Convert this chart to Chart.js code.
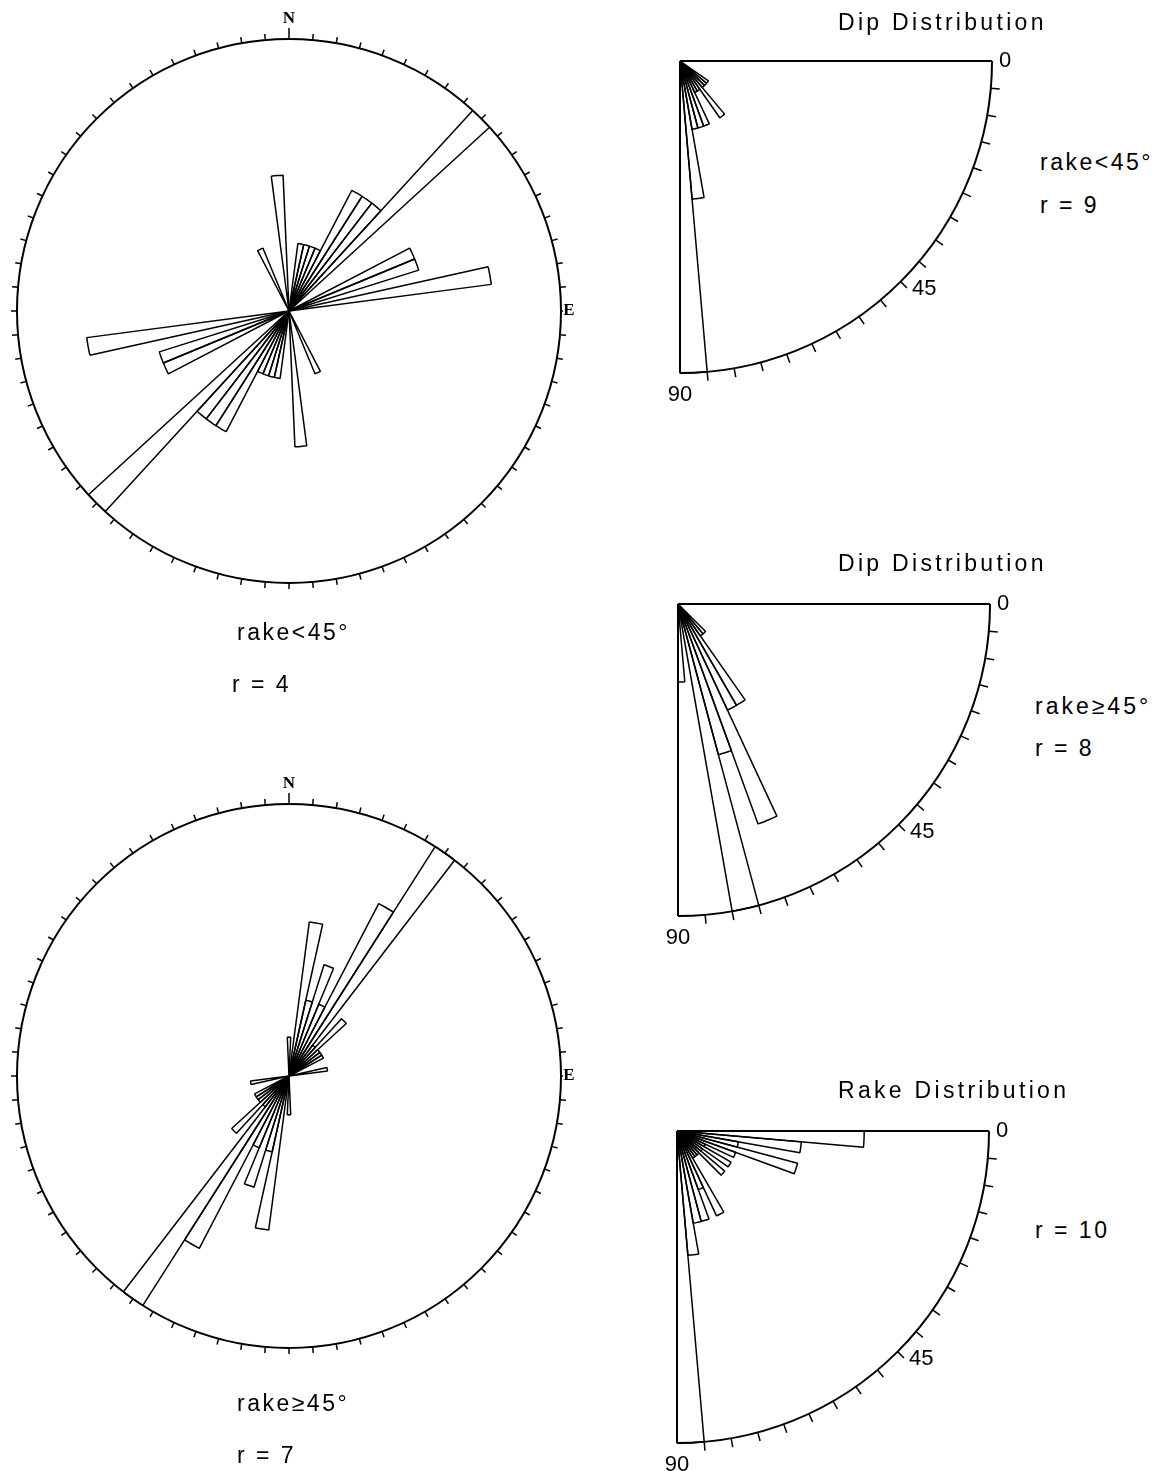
<!DOCTYPE html>
<html><head><meta charset="utf-8">
<title>Rose diagrams</title>
<script src="https://cdn.jsdelivr.net/npm/chart.js@4.4.1/dist/chart.umd.min.js"></script>
<style>
html,body{margin:0;padding:0;background:#fff;}
body{width:1174px;height:1471px;position:relative;overflow:hidden;font-family:"Liberation Sans",Arial,Helvetica,sans-serif;}
canvas{position:absolute;display:block;}
.t{position:absolute;margin:0;color:#000;font-size:23px;line-height:1;letter-spacing:2.5px;white-space:pre;}
.h{letter-spacing:3.3px;}
</style></head>
<body>
<canvas id="roseTop" width="600" height="600" style="left:-11px;top:11px;width:600px;height:600px"></canvas>
<canvas id="roseBottom" width="600" height="600" style="left:-11px;top:776px;width:600px;height:600px"></canvas>
<canvas id="dipUpper" width="684" height="684" style="left:338px;top:-281px;width:684px;height:684px"></canvas>
<canvas id="dipLower" width="684" height="684" style="left:336px;top:262px;width:684px;height:684px"></canvas>
<canvas id="rakeDist" width="684" height="684" style="left:335px;top:789px;width:684px;height:684px"></canvas>

<div class="t" style="left:237px;top:621px">rake&lt;45°</div>
<div class="t" style="left:232px;top:673px">r = 4</div>
<div class="t" style="left:237px;top:1392px">rake≥45°</div>
<div class="t" style="left:237px;top:1444px">r = 7</div>
<div class="t h" style="left:838px;top:11px">Dip Distribution</div>
<div class="t" style="left:1040px;top:151px">rake&lt;45°</div>
<div class="t" style="left:1040px;top:194px">r = 9</div>
<div class="t h" style="left:838px;top:552px">Dip Distribution</div>
<div class="t" style="left:1035px;top:695px;letter-spacing:3px">rake≥45°</div>
<div class="t" style="left:1035px;top:737px">r = 8</div>
<div class="t h" style="left:838px;top:1079px">Rake Distribution</div>
<div class="t" style="left:1035px;top:1219px">r = 10</div>

<script>
// ---------- DATA ----------
// Strike rose (bidirectional), 5-degree bins centred on 0,5,...,175 (mirrored to 180..355)
const strikeBinCenters = [0,5,10,15,20,25,30,35,40,45,50,55,60,65,70,75,80,85,
                          90,95,100,105,110,115,120,125,130,135,140,145,150,155,160,165,170,175];
const strikeCountsRakeLow  = [0,0,1,1,1,1,2,2,2,4,0,0,0,2,2,0,3,0,
                              0,0,0,0,0,0,0,0,0,0,0,0,0,1,0,0,0,2];
const strikeCountsRakeHigh = [1,0,4,2,3,2,5,7,1,2,1,1,1,0,0,0,1,0,
                              0,0,0,0,0,0,0,0,0,0,0,0,0,0,0,0,0,0];
const strikeMaxRakeLow = 4;   // r = 4
const strikeMaxRakeHigh = 7;  // r = 7

// Quarter roses, 5-degree bins 0-5 ... 85-90
const dipBins = ['0-5','5-10','10-15','15-20','20-25','25-30','30-35','35-40','40-45',
                 '45-50','50-55','55-60','60-65','65-70','70-75','75-80','80-85','85-90'];
const dipCountsRakeLow  = [0,0,0,0,0,0,0,1,1,1,2,1,1,2,2,2,4,9];
const dipCountsRakeHigh = [0,0,0,0,0,0,0,0,0,1,1,3,3,6,4,8,0,2];
const rakeCounts        = [6,4,2,4,2,1,2,1,2,1,1,1,3,2,3,3,4,10];
const dipMaxRakeLow = 9;   // r = 9
const dipMaxRakeHigh = 8;  // r = 8
const rakeMax = 10;        // r = 10

// Tick labels
const compassTickLabels = ['N','E'];
const compassTickAngles = [0, 90];
const quarterTickLabels = ['0','45','90'];
const quarterTickAngles = [0, 45, 90];
const tickStepDeg = 5;

// ---------- FRAME PLUGIN (uses the radial scale geometry) ----------
const rad = d => d * Math.PI / 180;
const roseFrame = {
  id: 'roseFrame',
  afterDatasetsDraw(chart, args, o) {
    const s = chart.scales.r, ctx = chart.ctx;
    const cx = s.xCenter, cy = s.yCenter, R = s.drawingArea;
    ctx.save();
    ctx.strokeStyle = '#000'; ctx.fillStyle = '#000'; ctx.lineCap = 'butt';
    if (o.kind === 'circle') {
      ctx.lineWidth = 2;
      ctx.beginPath(); ctx.arc(cx, cy, R, 0, Math.PI * 2); ctx.stroke();
      ctx.lineWidth = 1.5;
      for (let a = 0; a < 360; a += tickStepDeg) {
        const li = compassTickAngles.indexOf(a);
        const len = li === 0 ? 11 : (li > 0 ? 2 : 6);
        const t = rad(a - 90);
        ctx.beginPath();
        ctx.moveTo(cx + R * Math.cos(t), cy + R * Math.sin(t));
        ctx.lineTo(cx + (R + len) * Math.cos(t), cy + (R + len) * Math.sin(t));
        ctx.stroke();
      }
      ctx.font = 'bold 17px "Liberation Serif", "DejaVu Serif", serif';
      ctx.textAlign = 'center'; ctx.textBaseline = 'middle';
      compassTickLabels.forEach((lab, i) => {
        const a = compassTickAngles[i], t = rad(a - 90);
        const off = a === 0 ? 20 : 8;
        ctx.fillText(lab, cx + (R + off) * Math.cos(t), cy + (R + off) * Math.sin(t));
      });
    } else {
      ctx.lineWidth = 2;
      ctx.beginPath(); ctx.moveTo(cx, cy); ctx.lineTo(cx + R, cy); ctx.stroke();
      ctx.beginPath(); ctx.moveTo(cx, cy); ctx.lineTo(cx, cy + R); ctx.stroke();
      ctx.beginPath(); ctx.arc(cx, cy, R, 0, Math.PI / 2); ctx.stroke();
      ctx.lineWidth = 1.5;
      for (let a = tickStepDeg; a < 90; a += tickStepDeg) {
        const t = rad(a);
        ctx.beginPath();
        ctx.moveTo(cx + R * Math.cos(t), cy + R * Math.sin(t));
        ctx.lineTo(cx + (R + 9) * Math.cos(t), cy + (R + 9) * Math.sin(t));
        ctx.stroke();
      }
      ctx.font = '22px "Liberation Sans", Arial, sans-serif';
      ctx.textAlign = 'center'; ctx.textBaseline = 'middle';
      quarterTickLabels.forEach((lab, i) => {
        const a = quarterTickAngles[i];
        const ta = a === 45 ? 43 : a;
        const off = a === 0 ? 13 : 22;
        const t = rad(ta);
        ctx.fillText(lab, cx + (R + off) * Math.cos(t), cy + (R + off) * Math.sin(t));
      });
    }
    ctx.restore();
  }
};

function makeRose(id, labels, values, max, startAngle, kind, pad) {
  return new Chart(document.getElementById(id), {
    type: 'polarArea',
    data: {
      labels: labels,
      datasets: [{
        data: values,
        angle: tickStepDeg,
        backgroundColor: 'rgba(255,255,255,0)',
        borderColor: '#000',
        borderWidth: 1.5
      }]
    },
    options: {
      responsive: false,
      animation: false,
      events: [],
      layout: { padding: pad },
      plugins: { legend: { display: false }, tooltip: { enabled: false }, roseFrame: { kind: kind } },
      scales: {
        r: {
          min: 0, max: max, startAngle: startAngle,
          ticks: { display: false, stepSize: max },
          grid: { display: false },
          angleLines: { display: false },
          pointLabels: { display: false }
        }
      }
    },
    plugins: [roseFrame]
  });
}

// bidirectional: bins and their opposite directions
const strikeLabels = strikeBinCenters.concat(strikeBinCenters.map(c => c + 180)).map(String);
makeRose('roseTop', strikeLabels, strikeCountsRakeLow.concat(strikeCountsRakeLow),
         strikeMaxRakeLow, -tickStepDeg / 2, 'circle', 28);
makeRose('roseBottom', strikeLabels, strikeCountsRakeHigh.concat(strikeCountsRakeHigh),
         strikeMaxRakeHigh, -tickStepDeg / 2, 'circle', 28);
makeRose('dipUpper', dipBins, dipCountsRakeLow, dipMaxRakeLow, 90, 'quarter', 30);
makeRose('dipLower', dipBins, dipCountsRakeHigh, dipMaxRakeHigh, 90, 'quarter', 30);
makeRose('rakeDist', dipBins, rakeCounts, rakeMax, 90, 'quarter', 30);
</script>
</body></html>
